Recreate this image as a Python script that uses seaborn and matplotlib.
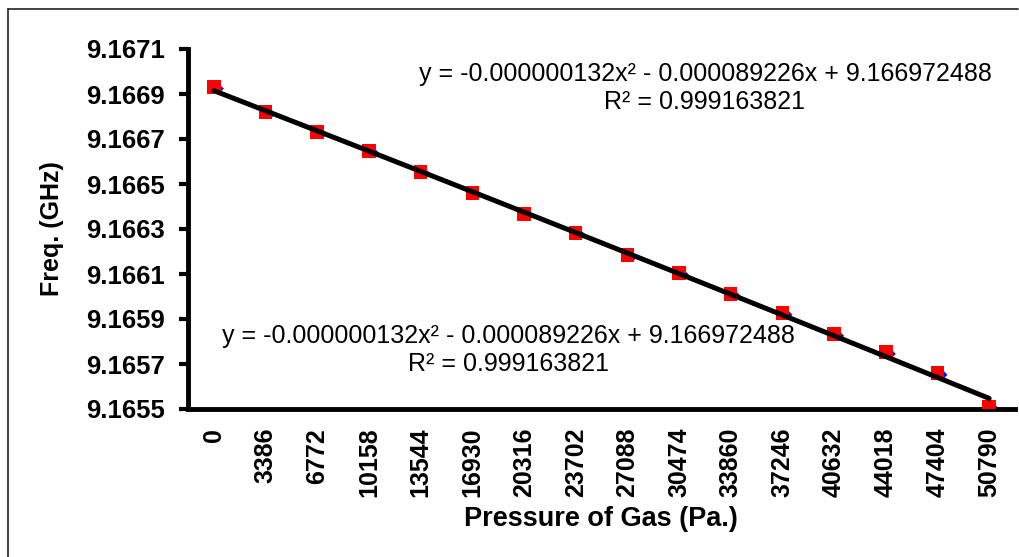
import numpy as np
import pandas as pd
import matplotlib
matplotlib.use("Agg")
import matplotlib.pyplot as plt
import matplotlib.transforms as mtransforms
from matplotlib.lines import Line2D
import seaborn as sns

# ---- data ----
pressure_labels = ["0", "3386", "6772", "10158", "13544", "16930", "20316", "23702",
                   "27088", "30474", "33860", "37246", "40632", "44018", "47404", "50790"]
freq_measured = [9.166931, 9.166820, 9.166731, 9.166647, 9.166553, 9.166460, 9.166367, 9.166282,
                 9.166184, 9.166104, 9.166011, 9.165927, 9.165833, 9.165753, 9.165660, 9.165509]
freq_second = [9.166924, 9.166812, 9.166723, 9.166639, 9.166545, 9.166452, 9.166359, 9.166274,
               9.166176, 9.166096, 9.166003, 9.165919, 9.165825, 9.165745, 9.165652, 9.165501]
y_ticks = [9.1655, 9.1657, 9.1659, 9.1661, 9.1663, 9.1665, 9.1667, 9.1669, 9.1671]
eq_text = "y = -0.000000132x\u00b2 - 0.000089226x + 9.166972488\nR\u00b2 = 0.999163821"

df = pd.DataFrame({"idx": np.arange(len(pressure_labels)),
                   "freq": freq_measured,
                   "freq2": freq_second})

sns.set_style("white")
plt.rcParams['font.family'] = ['Liberation Sans', 'DejaVu Sans']
for k in ["text.color", "axes.labelcolor", "xtick.color", "ytick.color"]:
    plt.rcParams[k] = "black"

W, H = 1019, 557
fig = plt.figure(figsize=(W / 100, H / 100), dpi=100)
ax = fig.add_axes([188 / W, 1 - 409 / H, (1015 - 188) / W, (409 - 49) / H])

# blue diamonds (slightly offset, underneath)
offset = mtransforms.ScaledTranslation(5 / 100, 0, fig.dpi_scale_trans)
sns.scatterplot(data=df, x="idx", y="freq2", marker="D", color="#0000ff",
                s=26, edgecolor="none", ax=ax, zorder=2)
for coll in ax.collections:
    coll.set_transform(coll.get_transform() + offset)

# red squares
sns.scatterplot(data=df, x="idx", y="freq", marker="s", color="#ff0000",
                s=95, edgecolor="none", ax=ax, zorder=3)

# polynomial trendline
sns.regplot(data=df, x="idx", y="freq", order=2, ci=None, scatter=False, ax=ax,
            line_kws=dict(color="black", lw=3.6, zorder=4, solid_capstyle="round"))

ax.set_xlim(-0.5, len(pressure_labels) - 0.5)
ax.set_ylim(9.1655, 9.1671)
ax.set_xlabel("")
ax.set_ylabel("")

ax.set_xticks(np.arange(len(pressure_labels)))
ax.set_xticklabels(pressure_labels, rotation=90, fontsize=18, fontweight="bold")
ax.set_xticks(np.arange(len(pressure_labels) + 1) - 0.5, minor=True)
ax.tick_params(axis="x", which="major", length=0, pad=13.5)
ax.tick_params(axis="x", which="minor", length=6.5, width=3, direction="out", color="black")

ax.set_yticks(y_ticks)
ax.set_yticklabels([f"{v:.4f}" for v in y_ticks], fontsize=18.5, fontweight="bold")
ax.tick_params(axis="y", which="major", length=6.5, width=3, direction="out",
               color="black", pad=10, left=True)

for side in ["top", "right"]:
    ax.spines[side].set_visible(False)
for side in ["left", "bottom"]:
    ax.spines[side].set_visible(True)
    ax.spines[side].set_linewidth(3.5)
    ax.spines[side].set_color("black")

# equation annotations
fig.text(705 / W, 1 - 88 / H, eq_text, ha="center", va="center", fontsize=18,
         linespacing=1.25, color="black")
fig.text(508 / W, 1 - 350 / H, eq_text, ha="center", va="center", fontsize=18,
         linespacing=1.25, color="black")

# axis titles
fig.text(601 / W, 1 - 519 / H, "Pressure of Gas (Pa.)", ha="center", va="center",
         fontsize=19.5, fontweight="bold")
fig.text(52 / W, 1 - 229 / H, "Freq. (GHz)", ha="center", va="center",
         rotation=90, fontsize=18, fontweight="bold")

# outer frame (top and left)
fig.add_artist(Line2D([8 / W, 1018 / W], [1 - 9 / H, 1 - 9 / H], transform=fig.transFigure,
                      color="#222222", lw=1.2))
fig.add_artist(Line2D([8 / W, 8 / W], [1 - 9 / H, 0], transform=fig.transFigure,
                      color="#222222", lw=1.2))

fig.savefig("out.png", dpi=100)
